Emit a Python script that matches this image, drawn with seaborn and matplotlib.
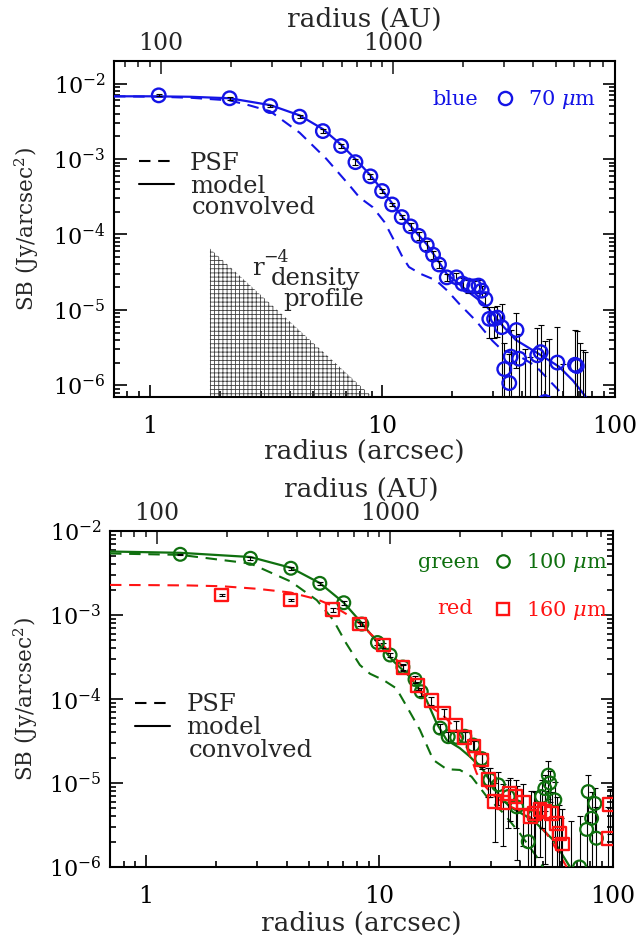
import numpy as np
import matplotlib
matplotlib.use("Agg")
import matplotlib.pyplot as plt
from matplotlib.lines import Line2D
from matplotlib.ticker import FuncFormatter, LogLocator, NullFormatter, FixedLocator
import seaborn as sns

# ---------------- data ----------------
AU_PER_ARCSEC = 90.0

# 70 micron (blue) surface brightness profile
r_blue = [1.09, 2.2, 3.29, 4.4, 5.54, 6.64, 7.65, 8.87, 9.96, 11.0, 12.1, 13.2,
          14.3, 15.5, 16.5, 17.5, 18.9, 20.8, 22.1, 23.4, 24.8, 25.9, 26.7, 27.7,
          28.8, 30.2, 31.2, 32.6, 33.4, 35.1, 35.6, 37.7, 38.7, 41.0, 43.0, 46.3,
          47.9, 50.0, 52.0, 56.5, 60.0, 67.3, 68.5, 70.5, 72.5, 74.5]
sb_blue = [7.0e-3, 6.4e-3, 5.05e-3, 3.65e-3, 2.35e-3, 1.49e-3, 9.1e-4, 5.9e-4,
           3.77e-4, 2.5e-4, 1.7e-4, 1.28e-4, 9.6e-5, 7.2e-5, 5.4e-5, 4.0e-5,
           2.7e-5, 2.7e-5, 2.23e-5, 2.1e-5, 2.05e-5, 2.1e-5, 1.8e-5, 1.39e-5,
           7.6e-6, 7.6e-6, 7.9e-6, 5.9e-6, 1.64e-6, 1.07e-6, 2.4e-6, 5.4e-6,
           2.25e-6, 5e-7, 4e-7, 2.5e-6, 2.75e-6, 6e-7, 5e-7, 2.0e-6, 4e-7,
           1.87e-6, 1.8e-6, 4e-7, 3e-7, 3e-7]
err_blue = [2e-4, 3e-4, 2e-4, 1.5e-4, 1.5e-4, 1e-4, 8e-5, 4e-5, 2.5e-5, 1.5e-5,
            1.2e-5, 1.2e-5, 1.2e-5, 9e-6, 6e-6, 4e-6, 3e-6, 4e-6, 4e-6, 4e-6,
            4e-6, 4e-6, 3e-6, 3e-6, 3.3e-6, 3.3e-6, 3.5e-6, 6e-6, 2e-6, 1.5e-6,
            3e-6, 3.7e-6, 2.5e-6, 2.5e-6, 2e-6, 3.3e-6, 3.5e-6, 3.3e-6, 3.6e-6,
            4e-6, 1.5e-6, 3.6e-6, 3.4e-6, 3.2e-6, 2.6e-6, 2.5e-6]

r_blue_model = [0.7, 1.0, 1.5, 2.2, 3.29, 4.4, 5.54, 6.64, 7.65, 8.87, 9.96, 11.0,
                12.1, 13.2, 14.3, 15.5, 16.5, 17.5, 18.9, 21.4, 23.6, 27.8, 32.8,
                37.4, 47.1, 57.4, 66.0, 75.0]
sb_blue_model = [6.8e-3, 6.8e-3, 6.7e-3, 6.4e-3, 5.2e-3, 3.8e-3, 2.5e-3, 1.55e-3,
                 1.0e-3, 6.1e-4, 3.9e-4, 2.6e-4, 1.75e-4, 1.3e-4, 9.8e-5, 7.4e-5,
                 5.6e-5, 4.3e-5, 3.0e-5, 2.2e-5, 1.7e-5, 1.15e-5, 6.2e-6, 4.0e-6,
                 2.6e-6, 1.77e-6, 1.15e-6, 7e-7]
r_blue_psf = [0.7, 1.1, 1.5, 2.2, 2.68, 3.29, 4.4, 5.73, 7.2, 7.96, 9.08, 10.2,
              11.2, 12.2, 13.0, 14.6, 17.0, 19.0, 21.4, 25.2, 29.7, 32.8, 37.4,
              45.6, 57.4, 60.3]
sb_blue_psf = [6.8e-3, 6.7e-3, 6.5e-3, 6.0e-3, 5.15e-3, 4.3e-3, 2.24e-3, 1.01e-3,
               4.5e-4, 3.1e-4, 2.3e-4, 1.46e-4, 8.4e-5, 5.0e-5, 3.7e-5, 3.0e-5,
               2.46e-5, 1.8e-5, 1.2e-5, 7.2e-6, 3.9e-6, 2.9e-6, 2.6e-6, 1.8e-6,
               8.5e-7, 7e-7]

# hatched r^-4 wedge (corner points)
r_wedge = [1.81, 9.06]
sb_wedge = [6.5e-5, 7e-7]

# 100 micron (green)
r_green = [1.40, 2.80, 4.17, 5.55, 7.03, 8.4, 9.8, 11.1, 12.6, 14.2, 15.1, 18.2,
           19.7, 21.4, 23.2, 25.2, 27.4, 29.7, 32.3, 35.6, 38.7, 43.4, 46.0, 49.5,
           51.1, 52.9, 53.7, 56.4, 60.0, 66.0, 72.0, 77.2, 78.4, 81.1, 83.7, 85.0]
sb_green = [5.28e-3, 4.73e-3, 3.6e-3, 2.38e-3, 1.40e-3, 7.8e-4, 4.7e-4, 3.34e-4,
            2.4e-4, 1.71e-4, 1.22e-4, 4.5e-5, 3.56e-5, 3.5e-5, 3.6e-5, 2.83e-5,
            1.95e-5, 1.09e-5, 9.5e-6, 6.9e-6, 5.2e-6, 2.0e-6, 4e-6, 6.9e-6,
            8.6e-6, 1.24e-5, 1.0e-5, 6.3e-6, 8e-7, 5e-7, 1.0e-6, 2.8e-6, 7.9e-6,
            3.8e-6, 5.7e-6, 2.2e-6]
err_green = [1e-4, 2e-4, 1.5e-4, 1e-4, 8e-5, 5e-5, 3e-5, 2e-5, 2e-5, 1.5e-5,
             1.2e-5, 6e-6, 5e-6, 5e-6, 5e-6, 5e-6, 4e-6, 4e-6, 4e-6, 4e-6, 4e-6,
             3e-6, 4e-6, 4e-6, 4e-6, 6e-6, 4e-6, 4e-6, 3e-6, 3e-6, 3e-6, 4e-6,
             4.5e-6, 4e-6, 3e-6, 3e-6]

r_green_model = [0.7, 1.4, 2.8, 4.17, 5.55, 7.03, 8.4, 9.8, 11.5, 13.5, 15.9, 17.6,
                 19.4, 22.1, 24.4, 27.8, 32.8, 36.2, 45.6, 55.5, 65.5]
sb_green_model = [5.7e-3, 5.5e-3, 4.9e-3, 3.65e-3, 2.4e-3, 1.4e-3, 8e-4, 4.7e-4,
                  2.8e-4, 1.84e-4, 9.7e-5, 5.1e-5, 3.25e-5, 2.6e-5, 2.06e-5,
                  1.43e-5, 6.9e-6, 5.2e-6, 3.6e-6, 2.1e-6, 1e-6]
r_green_psf = [0.7, 1.4, 2.8, 4.17, 5.39, 6.34, 7.2, 8.24, 9.1, 10.4, 11.8, 13.1,
               14.9, 17.0, 19.4, 22.1, 24.8, 28.8, 33.9, 40.0, 47.1, 50.2]
sb_green_psf = [5.4e-3, 5.2e-3, 4.1e-3, 2.5e-3, 1.5e-3, 8.7e-4, 4.6e-4, 2.54e-4,
                2.0e-4, 1.68e-4, 1.34e-4, 8.1e-5, 4.3e-5, 1.88e-5, 1.46e-5,
                1.43e-5, 1.19e-5, 6.9e-6, 4.4e-6, 2.5e-6, 1.33e-6, 1e-6]

# 160 micron (red)
r_red = [2.11, 4.17, 6.3, 8.24, 10.4, 12.6, 14.6, 16.7, 18.9, 21.2, 23.2, 25.4,
         27.4, 29.2, 31.2, 33.9, 36.2, 38.4, 41.3, 44.4, 46.3, 48.7, 51.1, 54.6,
         57.4, 58.9, 60.7, 95.5, 97.0]
sb_red = [1.73e-3, 1.51e-3, 1.15e-3, 7.8e-4, 4.4e-4, 2.36e-4, 1.44e-4, 9.5e-5,
          6.8e-5, 4.9e-5, 3.5e-5, 2.76e-5, 1.88e-5, 1.09e-5, 6.0e-6, 5.8e-6,
          7.5e-6, 6.9e-6, 5.8e-6, 4.0e-6, 4.3e-6, 4.8e-6, 4.6e-6, 4.3e-6,
          3.3e-6, 2.5e-6, 1.88e-6, 2.2e-6, 5.5e-6]
err_red = [5e-5, 6e-5, 6e-5, 5e-5, 3e-5, 2e-5, 1.5e-5, 1e-5, 8e-6, 6e-6, 5e-6,
           4e-6, 4e-6, 4e-6, 4e-6, 4e-6, 4e-6, 4e-6, 4e-6, 4e-6, 3.5e-6, 3.5e-6,
           3.5e-6, 3.5e-6, 3.5e-6, 3e-6, 3e-6, 3e-6, 3e-6]

r_red_psf = [0.7, 1.0, 1.5, 2.11, 3.0, 4.17, 5.39, 6.32, 7.2, 8.24, 9.2, 10.4,
             11.5, 12.6, 14.6, 16.2, 18.9, 21.2, 23.2, 25.2, 26.1, 28.5, 31.0,
             35.0, 41.0, 47.0, 52.0, 57.5, 63.4]
sb_red_psf = [2.28e-3, 2.27e-3, 2.25e-3, 2.2e-3, 2.05e-3, 1.85e-3, 1.54e-3,
              1.28e-3, 1.03e-3, 7.9e-4, 5.9e-4, 4.3e-4, 3.2e-4, 2.4e-4, 1.4e-4,
              8.5e-5, 6.2e-5, 4.5e-5, 3.0e-5, 1.7e-5, 1.3e-5, 9e-6, 7e-6, 5.5e-6,
              4.5e-6, 3.5e-6, 2.5e-6, 1.6e-6, 1e-6]

BLUE = "#1414e6"
GREEN = "#0f700f"
RED = "#ff1414"
DASH = (0, (5.5, 3.7))
FS_TICK = 17
FS_YTICK = 16
FS_XLAB = 19
FS_YLAB = 15.5
FS_KEY = 17.5
FS_COL = 15

sns.set_theme(style="ticks")
plt.rcParams["font.family"] = ["DejaVu Serif"]
plt.rcParams["mathtext.fontset"] = "dejavuserif"
plt.rcParams["hatch.linewidth"] = 0.6


def to_au(x):
    return np.asarray(x) * AU_PER_ARCSEC


def to_arcsec(x):
    return np.asarray(x) / AU_PER_ARCSEC


def yerr_for_log(sb, err):
    # symmetric errors; a lower bar reaching zero is sent far below the axis
    sb = np.asarray(sb)
    err = np.asarray(err)
    return [np.minimum(err, sb * 0.9999), err]


def style_axes(ax, ylim):
    ax.set_xscale("log")
    ax.set_yscale("log")
    ax.set_xlim(0.7, 100)
    ax.set_ylim(*ylim)
    ax.yaxis.set_minor_locator(LogLocator(base=10, subs=np.arange(2, 10), numticks=100))
    ax.xaxis.set_major_formatter(FuncFormatter(lambda v, p: f"{v:g}"))
    ax.xaxis.set_minor_formatter(NullFormatter())
    ax.tick_params(which="both", direction="in", top=False, right=True,
                   width=1.2, colors="black")
    ax.tick_params(which="major", length=9)
    ax.tick_params(which="minor", length=4.5)
    ax.tick_params(axis="x", pad=13, labelsize=FS_TICK)
    ax.tick_params(axis="y", pad=6, labelsize=FS_YTICK)
    for sp in ax.spines.values():
        sp.set_linewidth(1.5)
        sp.set_color("black")
    ax.grid(False)

    sec = ax.secondary_xaxis("top", functions=(to_au, to_arcsec))
    sec.xaxis.set_major_locator(FixedLocator([100, 1000]))
    sec.xaxis.set_minor_locator(FixedLocator(
        [70, 80, 90] + list(range(200, 1000, 100)) + list(range(2000, 10000, 1000))))
    sec.xaxis.set_major_formatter(FuncFormatter(lambda v, p: f"{v:g}"))
    sec.xaxis.set_minor_formatter(NullFormatter())
    sec.tick_params(which="both", direction="in", labelsize=FS_TICK, width=1.2, pad=4)
    sec.tick_params(which="major", length=9)
    sec.tick_params(which="minor", length=4.5)
    sec.set_xlabel("radius (AU)", fontsize=FS_XLAB, labelpad=4)

    ax.set_xlabel("radius (arcsec)", fontsize=FS_XLAB, va="center")
    ax.set_ylabel(r"SB (Jy/arcsec$^2$)", fontsize=FS_YLAB, va="center")
    return sec


def line_key(ax, anchor_y, spacing):
    handles = [Line2D([], [], color="black", lw=1.5, linestyle=DASH),
               Line2D([], [], color="black", lw=1.5)]
    leg = ax.legend(handles, ["PSF", "model"], loc="upper left",
                    bbox_to_anchor=(0.05, anchor_y), frameon=False,
                    fontsize=FS_KEY, handlelength=1.45, handletextpad=0.65,
                    borderaxespad=0, borderpad=0, labelspacing=spacing)
    ax.add_artist(leg)
    return leg


fig = plt.figure(figsize=(6.39, 9.38), dpi=100)
ax1 = fig.add_axes([0.1784, 0.5768, 0.784, 0.3582])
ax2 = fig.add_axes([0.1721, 0.0757, 0.787, 0.3582])

# ---------------- top panel: 70 micron ----------------
ax1.fill_between(r_wedge, sb_wedge, 1e-8, hatch="++++", facecolor="none",
                 edgecolor="0.25", linewidth=0, zorder=1)
sns.lineplot(x=r_blue_psf, y=sb_blue_psf, ax=ax1, color=BLUE, lw=1.5,
             linestyle=DASH, sort=False, estimator=None, zorder=3)
sns.lineplot(x=r_blue_model, y=sb_blue_model, ax=ax1, color=BLUE, lw=1.6,
             sort=False, estimator=None, zorder=3)
ax1.errorbar(r_blue, sb_blue, yerr=yerr_for_log(sb_blue, err_blue), fmt="none",
             ecolor="black", elinewidth=0.8, capsize=2.5, capthick=0.8, zorder=4)
sns.scatterplot(x=r_blue, y=sb_blue, ax=ax1, marker="o", s=95,
                facecolor="none", edgecolor=BLUE, linewidth=1.7, zorder=5)
style_axes(ax1, (7e-7, 2e-2))
ax1.yaxis.set_label_coords(-0.175, 0.5)
ax1.xaxis.set_label_coords(0.5, -0.161)

line_key(ax1, 0.73, 0.0)
ax1.text(0.156, 0.565, "convolved", transform=ax1.transAxes, fontsize=FS_KEY,
         va="center", ha="left")
ax1.text(0.275, 0.363, "r", transform=ax1.transAxes, fontsize=FS_KEY,
         va="baseline", ha="left")
ax1.text(0.297, 0.415, "\u22124", transform=ax1.transAxes, fontsize=12.5,
         va="center", ha="left")
ax1.text(0.313, 0.333, "density", transform=ax1.transAxes, fontsize=FS_KEY,
         va="baseline", ha="left")
ax1.text(0.337, 0.271, "profile", transform=ax1.transAxes, fontsize=FS_KEY,
         va="baseline", ha="left")

ax1.text(0.727, 0.884, "blue", transform=ax1.transAxes, fontsize=FS_COL,
         color=BLUE, va="center", ha="right")
ax1.legend([Line2D([], [], ls="none", marker="o", ms=9.5, mfc="none",
                   mec=BLUE, mew=1.7)], [r"70 $\mu$m"],
           loc="center left", bbox_to_anchor=(0.76, 0.884), frameon=False,
           fontsize=FS_COL, labelcolor=BLUE, handlelength=1.0,
           handletextpad=0.6, borderaxespad=0, borderpad=0)

# ---------------- bottom panel: 100 and 160 micron ----------------
sns.lineplot(x=r_green_psf, y=sb_green_psf, ax=ax2, color=GREEN, lw=1.5,
             linestyle=DASH, sort=False, estimator=None, zorder=3)
sns.lineplot(x=r_green_model, y=sb_green_model, ax=ax2, color=GREEN, lw=1.6,
             sort=False, estimator=None, zorder=3)
sns.lineplot(x=r_red_psf, y=sb_red_psf, ax=ax2, color=RED, lw=1.5,
             linestyle=DASH, sort=False, estimator=None, zorder=3)
ax2.errorbar(r_green, sb_green, yerr=yerr_for_log(sb_green, err_green), fmt="none",
             ecolor="black", elinewidth=0.8, capsize=2.5, capthick=0.8, zorder=4)
ax2.errorbar(r_red, sb_red, yerr=yerr_for_log(sb_red, err_red), fmt="none",
             ecolor="black", elinewidth=0.8, capsize=2.5, capthick=0.8, zorder=4)
sns.scatterplot(x=r_green, y=sb_green, ax=ax2, marker="o", s=85,
                facecolor="none", edgecolor=GREEN, linewidth=1.6, zorder=5)
sns.scatterplot(x=r_red, y=sb_red, ax=ax2, marker="s", s=85,
                facecolor="none", edgecolor=RED, linewidth=1.7, zorder=6)
style_axes(ax2, (1e-6, 1e-2))
ax2.yaxis.set_label_coords(-0.167, 0.5)
ax2.xaxis.set_label_coords(0.5, -0.167)

line_key(ax2, 0.517, 0.0)
ax2.text(0.156, 0.348, "convolved", transform=ax2.transAxes, fontsize=FS_KEY,
         va="center", ha="left")

ax2.text(0.735, 0.905, "green", transform=ax2.transAxes, fontsize=FS_COL,
         color=GREEN, va="center", ha="right")
ax2.text(0.722, 0.768, "red", transform=ax2.transAxes, fontsize=FS_COL,
         color=RED, va="center", ha="right")
ax2.legend([Line2D([], [], ls="none", marker="o", ms=9, mfc="none", mec=GREEN, mew=1.6),
            Line2D([], [], ls="none", marker="s", ms=9, mfc="none", mec=RED, mew=1.7)],
           [r"100 $\mu$m", r"160 $\mu$m"], loc="upper left",
           bbox_to_anchor=(0.76, 0.94), frameon=False, fontsize=FS_COL,
           labelcolor=[GREEN, RED], handlelength=1.0, handletextpad=0.6,
           borderaxespad=0, borderpad=0, labelspacing=1.2)

fig.savefig("out.png", dpi=100)
